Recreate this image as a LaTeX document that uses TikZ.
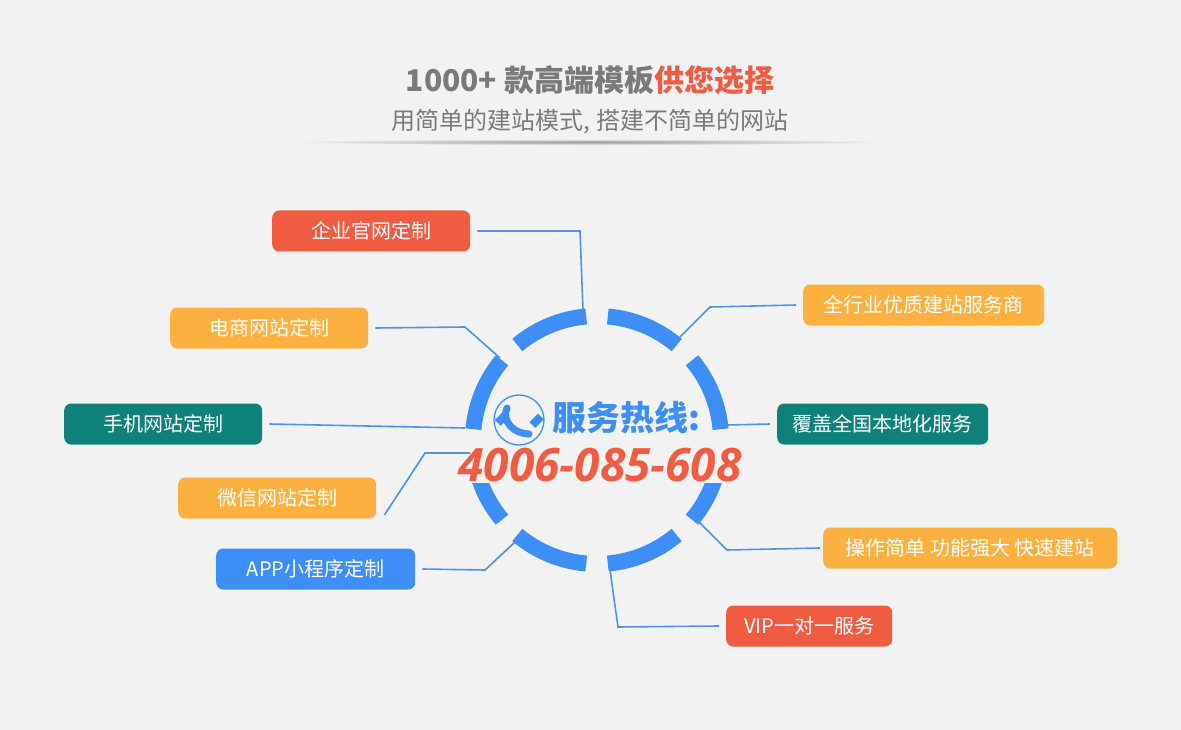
\documentclass[tikz,border=0pt]{standalone}
\usepackage{fontspec}
\setmainfont{Noto Sans CJK SC}
\newfontfamily\numfont{Open Sans}
\usetikzlibrary{calc}
\definecolor{bg}{HTML}{F2F2F2}
\definecolor{ringblue}{HTML}{3D8FF7}
\definecolor{lineblue}{HTML}{4A93F2}
\definecolor{cred}{HTML}{F05C42}
\definecolor{corange}{HTML}{FBB03F}
\definecolor{cteal}{HTML}{0E827A}
\definecolor{cblue}{HTML}{3D8FF7}
\definecolor{tgray}{HTML}{7A7A7A}
\tikzset{
  tag/.style={rounded corners=7pt,text=white,font=\fontsize{20pt}{22pt}\selectfont,minimum height=41pt,anchor=west,inner sep=0pt},
  conn/.style={draw=lineblue,line width=1.6pt}
}
\begin{document}
\begin{tikzpicture}[x=1pt,y=-1pt]
\fill[bg] (0,0) rectangle (1181,730);
\useasboundingbox (0,0) rectangle (1181,730);
% title
\node (t1) at (590,80) {\fontsize{30pt}{32pt}\selectfont\bfseries\color{tgray}1000+ 款高端模板\color{cred}供您选择};
\node (t2) at (590,122) {\fontsize{24pt}{26pt}\selectfont\color{tgray}用简单的建站模式, 搭建不简单的网站};
\shade[inner color=black!40,outer color=bg] (590,142) ellipse (300 and 3);
% ring
\coordinate (c) at (597,440);
\foreach \k in {0,...,7}{
  \draw[ringblue,line width=16pt] ($(c)+({\k*45+5}:124 and -124)$) arc[start angle={\k*45+5},end angle={\k*45+40},x radius=124,y radius=-124];
}
% center text
\node[fill=bg,inner sep=1pt] (num) at (600,465) {\numfont\fontsize{46pt}{48pt}\selectfont\bfseries\itshape\color{cred}4006-085-608};
\node[fill=bg,inner sep=1pt] (hot) at (626,418) {\fontsize{34pt}{36pt}\selectfont\bfseries\color{ringblue}服务热线:};
\node[circle,draw=ringblue,line width=1.3pt,minimum size=50pt,inner sep=0pt] (icon) at (519,420) {};
\draw[ringblue,line width=7pt,line cap=round] ($(icon)+(-12,-12)$) .. controls ($(icon)+(-18,2)$) and ($(icon)+(-4,14)$) .. ($(icon)+(10,14)$);
\fill[ringblue,rotate around={45:($(icon)+(-11,-13)$)}] ($(icon)+(-17,-17)$) rectangle ($(icon)+(-5,-9)$);
\fill[ringblue,rotate around={45:($(icon)+(11,13)$)}] ($(icon)+(6,9)$) rectangle ($(icon)+(18,17)$);
% tags
\node[tag,fill=cred,minimum width=198pt] (a1) at (272,231) {企业官网定制};
\node[tag,fill=corange,minimum width=198pt] (a2) at (170,328) {电商网站定制};
\node[tag,fill=cteal,minimum width=198pt] (a3) at (64,424) {手机网站定制};
\node[tag,fill=corange,minimum width=198pt] (a4) at (178,498) {微信网站定制};
\node[tag,fill=cblue,minimum width=199pt] (a5) at (216,569) {APP小程序定制};
\node[tag,fill=corange,minimum width=241pt] (b1) at (803,305) {全行业优质建站服务商};
\node[tag,fill=cteal,minimum width=211pt] (b2) at (777,424) {覆盖全国本地化服务};
\node[tag,fill=corange,minimum width=294pt] (b3) at (823,548) {操作简单 功能强大 快速建站};
\node[tag,fill=cred,minimum width=166pt] (b4) at (726,626) {VIP一对一服务};
% connectors
\coordinate (e1) at (583,310); \coordinate (e2) at (500,358); \coordinate (e3) at (465,428);
\coordinate (e4) at (470,453); \coordinate (e5) at (515,542); \coordinate (f1) at (680,337);
\coordinate (f2) at (727,425); \coordinate (f3) at (697,520); \coordinate (f4) at (610,570);
\draw[conn] ([xshift=7pt]a1.east) -- (580,231) -- (e1);
\draw[conn] ([xshift=7pt]a2.east) -- (465,327) -- (e2);
\draw[conn] ([xshift=7pt]a3.east) -- (e3);
\draw[conn] ([xshift=8pt,yshift=-17pt]a4.east) -- (425,453) -- (e4);
\draw[conn] ([xshift=7pt]a5.east) -- (485,570) -- (e5);
\draw[conn] ([xshift=-7pt]b1.west) -- (710,307) -- (f1);
\draw[conn] ([xshift=-7pt]b2.west) -- (f2);
\draw[conn] ([xshift=-3pt]b3.west) -- (727,550) -- (f3);
\draw[conn] ([xshift=-7pt]b4.west) -- (618,627) -- (f4);
\end{tikzpicture}
\end{document}
